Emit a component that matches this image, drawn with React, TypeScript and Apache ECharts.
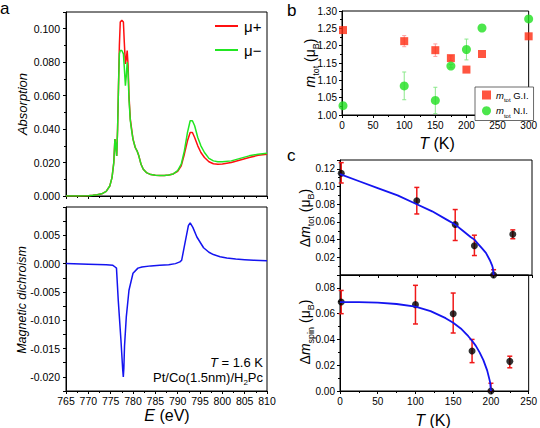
import React, { useEffect, useRef } from 'react';
import * as echarts from 'echarts';

const FONT = '"Liberation Sans", Arial, Helvetica, sans-serif';

// (a) X-ray absorption at the Co L2,3 edges, both helicities
const energyAbs = [765, 768, 770, 771, 772, 773, 774, 774.8, 775.3, 775.7, 775.95, 776.15, 776.35, 776.55, 776.75, 776.95, 777.15, 777.5, 777.85, 778.05, 778.3, 778.5, 778.7, 778.9, 779.1, 779.4, 779.7, 780.0, 780.5, 780.9, 781.3, 781.8, 782.3, 783, 784, 785, 786, 787, 788, 789, 790, 790.8, 791.5, 792.2, 792.8, 793.3, 793.8, 794.5, 795.2, 796, 797, 798, 799, 800, 802, 804, 806, 808, 810];
const muPlus = [0, 0, 0.0002, 0.0004, 0.0007, 0.0013, 0.0028, 0.006, 0.011, 0.02, 0.034, 0.03, 0.024, 0.04, 0.065, 0.09, 0.104, 0.105, 0.104, 0.092, 0.079, 0.082, 0.087, 0.078, 0.06, 0.046, 0.04, 0.034, 0.029, 0.027, 0.024, 0.019, 0.016, 0.014, 0.0128, 0.0124, 0.0122, 0.0122, 0.0125, 0.0132, 0.0148, 0.018, 0.025, 0.033, 0.038, 0.038, 0.035, 0.03, 0.026, 0.023, 0.0205, 0.0193, 0.019, 0.0192, 0.02, 0.0215, 0.023, 0.0243, 0.025];
const muMinus = [0, 0, 0.0002, 0.0004, 0.0007, 0.0013, 0.0028, 0.006, 0.011, 0.02, 0.034, 0.03, 0.024, 0.04, 0.065, 0.085, 0.087, 0.087, 0.085, 0.077, 0.066, 0.072, 0.08, 0.074, 0.058, 0.045, 0.039, 0.034, 0.029, 0.027, 0.024, 0.019, 0.016, 0.014, 0.0128, 0.0124, 0.0122, 0.0122, 0.0125, 0.0132, 0.0152, 0.019, 0.027, 0.038, 0.045, 0.045, 0.042, 0.035, 0.03, 0.026, 0.0225, 0.021, 0.0205, 0.0205, 0.021, 0.0225, 0.024, 0.025, 0.0255];

// (a) XMCD difference spectrum
const energyXmcd = [765, 770, 774, 775.5, 776.0, 776.3, 776.7, 777.3, 777.7, 777.83, 777.95, 778.1, 778.5, 779.1, 780.0, 781.1, 782, 784, 786, 788, 789.5, 790.5, 790.9, 791.6, 792.4, 792.8, 793.4, 794.3, 795.8, 797, 798, 799.5, 801, 803, 805, 807, 810];
const xmcd = [0, -0.0001, -0.0002, -0.0003, -0.0006, -0.0008, -0.0065, -0.0135, -0.0188, -0.02, -0.0185, -0.0146, -0.0094, -0.0047, -0.0017, -0.0008, -0.0006, -0.0004, -0.0003, -0.0002, 0, 0.0003, 0.0006, 0.0035, 0.0067, 0.0072, 0.0064, 0.0047, 0.0028, 0.002, 0.0016, 0.0012, 0.001, 0.0008, 0.0007, 0.0006, 0.0005];

// (b) total moment vs temperature
const tempB = [1.6, 100, 150, 175, 200, 225, 300];
const mtotGI = [1.245, 1.213, 1.187, 1.164, 1.131, 1.176, 1.227];
const mtotGIErr = [0, 0.016, 0.018, 0.007, 0, 0, 0];
const mtotNI = [1.027, 1.084, 1.042, 1.141, 1.189, 1.251, 1.277];
const mtotNIErr = [0, 0.04, 0.038, 0.005, 0.03, 0, 0];

// (c) dichroic moments vs temperature with fits
const tempC = [1.6, 100, 150, 175, 200, 225];
const dMtot = [0.115, 0.084, 0.057, 0.033, 0.0, 0.046];
const dMtotLow = [0.104, 0.069, 0.039, 0.022, 0.0, 0.041];
const dMtotHigh = [0.127, 0.099, 0.074, 0.045, 0.006, 0.051];
const dMspin = [0.069, 0.067, 0.06, 0.031, 0.0, 0.023];
const dMspinLow = [0.06, 0.052, 0.045, 0.022, 0.0, 0.018];
const dMspinHigh = [0.078, 0.082, 0.076, 0.04, 0.006, 0.027];

const fitT = [0, 25, 50, 75, 100, 120, 140, 150, 160, 170, 175, 180, 185, 190, 195, 198, 199, 200];
const fitMtot = [0.114, 0.106, 0.098, 0.09, 0.08, 0.072, 0.062, 0.057, 0.05, 0.043, 0.04, 0.035, 0.03, 0.025, 0.017, 0.011, 0.008, 0];
const fitMspin = [0.069, 0.069, 0.0685, 0.0675, 0.0655, 0.062, 0.0565, 0.053, 0.0485, 0.0425, 0.039, 0.035, 0.03, 0.024, 0.016, 0.009, 0.0065, 0];

const RED = '#ff1010';
const GREEN = '#22e622';
const BLUE = '#1414f0';

const zip = (xs: number[], ys: number[]) => xs.map((x, i) => [x, ys[i]]);

const richLabel = (size: number, lh: number = size + 6) => ({
  i: { fontStyle: 'italic', fontSize: size, fontFamily: FONT, color: '#000', fill: '#000', lineHeight: lh },
  n: { fontSize: size, fontFamily: FONT, color: '#000', fill: '#000', lineHeight: lh },
  s: { fontSize: Math.round(size * 0.65), fontFamily: FONT, color: '#000', fill: '#000', verticalAlign: 'bottom', lineHeight: Math.round(size * 0.65) + 2 },
});

function axis(gridIndex: number, min: number, max: number, interval: number, extra: any = {}) {
  const fmt = extra.fmt as ((v: number) => string) | undefined;
  return {
    type: 'value',
    gridIndex,
    min,
    max,
    interval,
    axisLine: { show: true, onZero: false, lineStyle: { color: '#000', width: 1 } },
    axisTick: { show: true, inside: false, length: 3, lineStyle: { color: '#000', width: 1 } },
    minorTick: { show: extra.minor !== false, splitNumber: 2, length: 2, lineStyle: { color: '#000', width: 1 } },
    splitLine: { show: false },
    minorSplitLine: { show: false },
    axisLabel: {
      show: extra.labels !== false,
      color: '#000',
      fontSize: extra.fontSize || 10,
      fontFamily: FONT,
      margin: extra.margin || 5,
      formatter: fmt,
    },
  };
}

function errorBars(color: string, cap: number, width: number) {
  return (params: any, api: any) => {
    const x = api.value(0);
    const lo = api.coord([x, api.value(1)]);
    const hi = api.coord([x, api.value(2)]);
    const style = { stroke: color, lineWidth: width };
    return {
      type: 'group',
      children: [
        { type: 'line', shape: { x1: lo[0], y1: lo[1], x2: hi[0], y2: hi[1] }, style },
        { type: 'line', shape: { x1: lo[0] - cap, y1: lo[1], x2: lo[0] + cap, y2: lo[1] }, style },
        { type: 'line', shape: { x1: hi[0] - cap, y1: hi[1], x2: hi[0] + cap, y2: hi[1] }, style },
      ],
    };
  };
}

const symErr = (xs: number[], ys: number[], errs: number[]) =>
  xs.map((x, i) => [x, ys[i] - errs[i], ys[i] + errs[i]]).filter((_, i) => errs[i] > 0);
const rangeErr = (xs: number[], lo: number[], hi: number[]) =>
  xs.map((x, i) => [x, lo[i], hi[i]]);

// label only the multiples of `step`, up to `top`
const fixed = (d: number, step: number, top: number = Infinity) => (v: number) => {
  const k = v / step;
  if (Math.abs(k - Math.round(k)) > 1e-6 || v > top + 1e-9) return '';
  const r = Math.round(v * 10000) / 10000;
  return (r === 0 ? 0 : r).toFixed(d);
};

export default function App() {
  const ref = useRef<HTMLDivElement>(null);

  useEffect(() => {
    if (!ref.current) return;
    const chart = echarts.init(ref.current, undefined, { renderer: 'svg' });
    const gridStyle = { show: true, borderColor: '#000', borderWidth: 1, backgroundColor: 'transparent' };

    const option: any = {
      animation: false,
      backgroundColor: '#fff',
      textStyle: { fontFamily: FONT },
      grid: [
        { left: 66, top: 12, width: 201, height: 184, ...gridStyle },
        { left: 66, top: 207, width: 201, height: 184, ...gridStyle },
        { left: 342, top: 11, width: 190, height: 104, ...gridStyle },
        { left: 340, top: 160, width: 192, height: 115, ...gridStyle },
        { left: 340, top: 275, width: 192, height: 116, ...gridStyle },
      ],
      xAxis: [
        axis(0, 765, 810, 5, { labels: false }),
        axis(1, 765, 810, 5, { fontSize: 10.5, margin: 4 }),
        axis(2, 0, 300, 50, { margin: 5 }),
        axis(3, 0, 250, 50, { labels: false }),
        axis(4, 0, 250, 50, { margin: 5 }),
      ],
      yAxis: [
        axis(0, 0, 0.11, 0.02, { fontSize: 10.5, margin: 6, fmt: fixed(3, 0.02) }),
        axis(1, -0.0225, 0.01, 0.0025, { fontSize: 10.5, margin: 6, minor: false, fmt: fixed(3, 0.005, 0.005) }),
        axis(2, 1.0, 1.3, 0.05, { margin: 5, fmt: fixed(2, 0.05) }),
        axis(3, 0, 0.13, 0.02, { margin: 5, fmt: (v: number) => (v > 0.001 && Math.abs(v / 0.02 - Math.round(v / 0.02)) < 1e-6 ? v.toFixed(2) : '') }),
        axis(4, 0, 0.09, 0.02, { margin: 5, fmt: fixed(2, 0.02) }),
      ],
      legend: [
        {
          data: ['μ+', 'μ−'],
          orient: 'vertical',
          left: 215,
          top: 18.5,
          padding: 0,
          icon: 'rect',
          itemWidth: 23,
          itemHeight: 2,
          itemGap: 9,
          textStyle: { fontSize: 15, fontFamily: FONT, color: '#000', lineHeight: 15, padding: [0, 0, 0, 1] },
        },
        {
          data: ['G.I.', 'N.I.'],
          orient: 'vertical',
          left: 475,
          top: 87,
          padding: [3, 5, 2, 7],
          itemGap: 3,
          itemWidth: 9,
          itemHeight: 9,
          backgroundColor: '#fff',
          borderColor: '#444',
          borderWidth: 0.8,
          formatter: (n: string) => `{i|m}{s|tot}{n| ${n}}`,
          textStyle: { rich: richLabel(9.5) },
        },
      ],
      series: [
        {
          name: 'μ+', type: 'line', xAxisIndex: 0, yAxisIndex: 0, data: zip(energyAbs, muPlus),
          symbol: 'none', lineStyle: { color: RED, width: 1.5 }, itemStyle: { color: RED },
        },
        {
          name: 'μ−', type: 'line', xAxisIndex: 0, yAxisIndex: 0, data: zip(energyAbs, muMinus),
          symbol: 'none', lineStyle: { color: GREEN, width: 1.5 }, itemStyle: { color: GREEN },
        },
        {
          name: 'XMCD', type: 'line', xAxisIndex: 1, yAxisIndex: 1, data: zip(energyXmcd, xmcd),
          symbol: 'none', lineStyle: { color: BLUE, width: 1.5 },
        },
        {
          type: 'custom', xAxisIndex: 2, yAxisIndex: 2, clip: false,
          renderItem: errorBars('#ff9d9d', 2, 1), data: symErr(tempB, mtotGI, mtotGIErr),
          encode: { x: 0, y: [1, 2] },
        },
        {
          type: 'custom', xAxisIndex: 2, yAxisIndex: 2, clip: false,
          renderItem: errorBars('#8be88b', 2, 1), data: symErr(tempB, mtotNI, mtotNIErr),
          encode: { x: 0, y: [1, 2] },
        },
        {
          name: 'G.I.', type: 'scatter', xAxisIndex: 2, yAxisIndex: 2, clip: false,
          data: zip(tempB, mtotGI), symbol: 'rect', symbolSize: 8, itemStyle: { color: '#ff2a10' },
        },
        {
          name: 'N.I.', type: 'scatter', xAxisIndex: 2, yAxisIndex: 2, clip: false,
          data: zip(tempB, mtotNI), symbol: 'circle', symbolSize: 9, itemStyle: { color: '#1fe01f' },
        },
        {
          type: 'line', xAxisIndex: 3, yAxisIndex: 3, data: zip(fitT, fitMtot),
          symbol: 'none', lineStyle: { color: BLUE, width: 1.8 },
        },
        {
          type: 'custom', xAxisIndex: 3, yAxisIndex: 3, clip: false,
          renderItem: errorBars('#f01818', 2.5, 1.5), data: rangeErr(tempC, dMtotLow, dMtotHigh),
          encode: { x: 0, y: [1, 2] },
        },
        {
          type: 'scatter', xAxisIndex: 3, yAxisIndex: 3, clip: false,
          data: zip(tempC, dMtot), symbol: 'circle', symbolSize: 7, itemStyle: { color: '#000' },
        },
        {
          type: 'line', xAxisIndex: 4, yAxisIndex: 4, data: zip(fitT, fitMspin),
          symbol: 'none', lineStyle: { color: BLUE, width: 1.8 },
        },
        {
          type: 'custom', xAxisIndex: 4, yAxisIndex: 4, clip: false,
          renderItem: errorBars('#f01818', 2.5, 1.5), data: rangeErr(tempC, dMspinLow, dMspinHigh),
          encode: { x: 0, y: [1, 2] },
        },
        {
          type: 'scatter', xAxisIndex: 4, yAxisIndex: 4, clip: false,
          data: zip(tempC, dMspin), symbol: 'circle', symbolSize: 7, itemStyle: { color: '#000' },
        },
      ],
      graphic: [
        // panel letters
        { type: 'text', x: 0, y: 8.5, style: { text: 'a', fontSize: 17, fontFamily: FONT, fill: '#000', verticalAlign: 'middle' } },
        { type: 'text', x: 287, y: 10, style: { text: 'b', fontSize: 17, fontFamily: FONT, fill: '#000', verticalAlign: 'middle' } },
        { type: 'text', x: 287, y: 155, style: { text: 'c', fontSize: 17, fontFamily: FONT, fill: '#000', verticalAlign: 'middle' } },
        // panel a axis titles
        {
          type: 'text', x: 22, y: 104, rotation: Math.PI / 2,
          style: { text: 'Absorption', fontSize: 13, fontStyle: 'italic', fontFamily: FONT, fill: '#000', align: 'center', verticalAlign: 'middle' },
        },
        {
          type: 'text', x: 22, y: 300, rotation: Math.PI / 2,
          style: { text: 'Magnetic dichroism', fontSize: 12.5, fontStyle: 'italic', fontFamily: FONT, fill: '#000', align: 'center', verticalAlign: 'middle' },
        },
        {
          type: 'text', x: 167, y: 415,
          style: { text: '{i|E}{n| (eV)}', rich: richLabel(16, 16), align: 'center', verticalAlign: 'middle' },
        },
        {
          type: 'text', x: 263, y: 362,
          style: { text: '{i|T}{n| = 1.6 K}', rich: richLabel(13), align: 'right', verticalAlign: 'middle' },
        },
        {
          type: 'text', x: 263, y: 377,
          style: { text: '{n|Pt/Co(1.5nm)/H}{s|2}{n|Pc}', rich: richLabel(13), align: 'right', verticalAlign: 'middle' },
        },
        // panel b axis titles
        {
          type: 'text', x: 310, y: 63, rotation: Math.PI / 2,
          style: { text: '{i|m}{s|tot}{n| (μ}{s|B}{n|)}', rich: richLabel(14), align: 'center', verticalAlign: 'middle' },
        },
        {
          type: 'text', x: 437, y: 143,
          style: { text: '{i|T}{n| (K)}', rich: richLabel(16, 16), align: 'center', verticalAlign: 'middle' },
        },
        // panel c axis titles
        {
          type: 'text', x: 305, y: 218, rotation: Math.PI / 2,
          style: { text: '{n|Δ}{i|m}{s|tot}{n| (μ}{s|B}{n|)}', rich: richLabel(14), align: 'center', verticalAlign: 'middle' },
        },
        {
          type: 'text', x: 305, y: 332, rotation: Math.PI / 2,
          style: { text: '{n|Δ}{i|m}{s|spin}{n| (μ}{s|B}{n|)}', rich: richLabel(14), align: 'center', verticalAlign: 'middle' },
        },
        {
          type: 'text', x: 433, y: 420,
          style: { text: '{i|T}{n| (K)}', rich: richLabel(16, 16), align: 'center', verticalAlign: 'middle' },
        },
      ],
    };

    chart.setOption(option);
    return () => chart.dispose();
  }, []);

  return (
    <div
      ref={ref}
      style={{ position: 'fixed', left: 0, top: 0, width: 540, height: 428, background: '#fff' }}
    />
  );
}
